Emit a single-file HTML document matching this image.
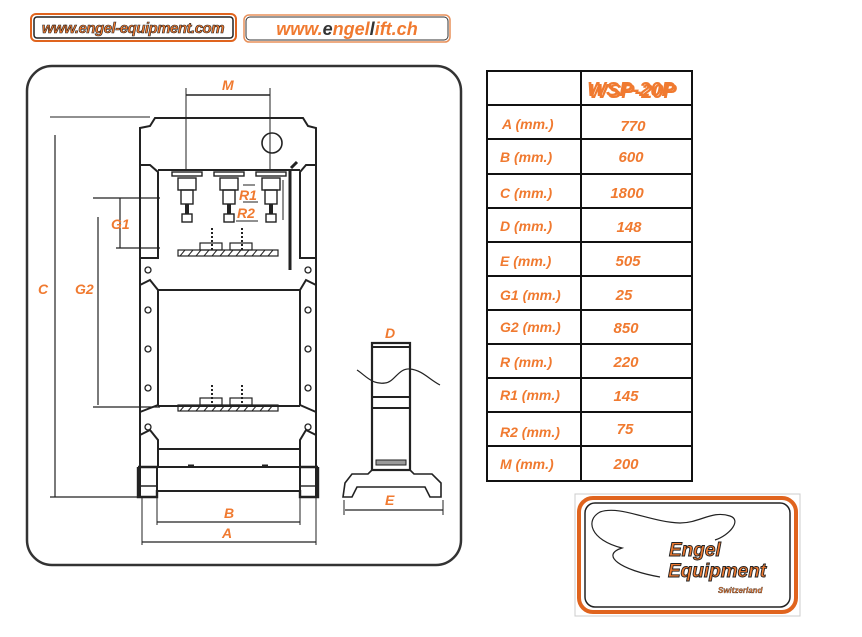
<!DOCTYPE html>
<html><head><meta charset="utf-8"><style>
body{margin:0;background:#fff;width:862px;height:637px;overflow:hidden}
svg{display:block}
.o{fill:#f07a30;font-family:"Liberation Sans",sans-serif;font-weight:bold;font-style:italic}
</style></head><body>
<svg width="862" height="637" viewBox="0 0 862 637" xmlns="http://www.w3.org/2000/svg">
<!-- header badges -->
<rect x="31" y="14" width="205" height="27" rx="5" fill="#fff" stroke="#e0641e" stroke-width="2"/>
<rect x="34" y="17" width="199" height="21" rx="3" fill="none" stroke="#222" stroke-width="1.5"/>
<text x="133" y="33" text-anchor="middle" class="o" font-size="15" stroke="#222" stroke-width="0.6" letter-spacing="-0.5">www.engel-equipment.com</text>
<rect x="244" y="15" width="206" height="27" rx="5" fill="#fff" stroke="#e8905a" stroke-width="1.5"/>
<rect x="246" y="17" width="202" height="23" rx="4" fill="none" stroke="#333" stroke-width="1"/>
<text x="347" y="35" text-anchor="middle" class="o" font-size="18">www.<tspan fill="#333">e</tspan>ngel<tspan fill="#333">l</tspan>ift.ch</text>

<!-- main box -->
<rect x="27" y="66" width="434" height="499" rx="25" fill="none" stroke="#333" stroke-width="2.5"/>

<g stroke="#222" fill="none" stroke-width="2">
<!-- dims -->
<line x1="186" y1="95" x2="270" y2="95" stroke-width="1.4"/>
<line x1="186" y1="88" x2="186" y2="170" stroke-width="1"/>
<line x1="270" y1="88" x2="270" y2="170" stroke-width="1"/>
<line x1="50" y1="117" x2="150" y2="117" stroke-width="1"/>
<line x1="55" y1="135" x2="55" y2="497" stroke-width="1.2"/>
<line x1="50" y1="497" x2="140" y2="497" stroke-width="1.2"/>
<line x1="93" y1="198" x2="160" y2="198" stroke-width="1.2"/>
<line x1="116" y1="248" x2="160" y2="248" stroke-width="1.2"/>
<line x1="120" y1="198" x2="120" y2="248" stroke-width="1.2"/>
<line x1="98" y1="217" x2="98" y2="405" stroke-width="1.2"/>
<line x1="93" y1="407" x2="160" y2="407" stroke-width="1.2"/>
<line x1="157" y1="522" x2="300" y2="522" stroke-width="1.2"/>
<line x1="142" y1="542" x2="316" y2="542" stroke-width="1.2"/>
<line x1="142" y1="497" x2="142" y2="545" stroke-width="1"/>
<line x1="316" y1="497" x2="316" y2="545" stroke-width="1"/>
<line x1="157" y1="497" x2="157" y2="525" stroke-width="1"/>
<line x1="300" y1="497" x2="300" y2="525" stroke-width="1"/>

<!-- frame outer -->
<path d="M140,497 L140,128 L150,126 L155,118 L303,118 L308,126 L316,128 L316,497"/>
<line x1="158" y1="170" x2="300" y2="170"/>
<!-- posts -->
<path d="M140,165 L150,165 L158,172 L158,258 L140,258"/>
<path d="M316,165 L306,165 L300,172 L300,258 L316,258"/>
<path d="M140,285 L150,280 L158,290 L158,405 L140,412"/>
<path d="M316,285 L306,280 L300,290 L300,405 L316,412"/>
<path d="M140,435 L150,430 L158,440 L158,467"/>
<path d="M316,435 L306,430 L300,440 L300,467"/>
<line x1="158" y1="290" x2="300" y2="290"/>
<line x1="158" y1="406" x2="300" y2="406"/>
<line x1="158" y1="449" x2="300" y2="449"/>
<!-- base -->
<rect x="157" y="467" width="143" height="24"/>
<line x1="188" y1="466" x2="194" y2="466" stroke-width="3"/>
<line x1="262" y1="466" x2="268" y2="466" stroke-width="3"/>
<path d="M138,467 L157,467 M138,467 L138,497 L157,497 L157,490" stroke-width="2.4"/>
<path d="M318,467 L300,467 M318,467 L318,497 L300,497 L300,490" stroke-width="2.4"/>
<line x1="140" y1="486" x2="157" y2="486" stroke-width="1.4"/>
<line x1="300" y1="486" x2="316" y2="486" stroke-width="1.4"/>
<!-- gauge -->
<circle cx="272" cy="143" r="10" stroke-width="1.6"/>
<!-- cylinders -->
<g stroke-width="1.4">
<rect x="172" y="172" width="30" height="4"/><rect x="214" y="172" width="30" height="4"/><rect x="256" y="172" width="30" height="4"/>
<rect x="178" y="178" width="18" height="12"/><rect x="220" y="178" width="18" height="12"/><rect x="262" y="178" width="18" height="12"/>
<rect x="181" y="190" width="12" height="14"/><rect x="223" y="190" width="12" height="14"/><rect x="265" y="190" width="12" height="14"/>
<rect x="182" y="214" width="10" height="8"/><rect x="224" y="214" width="10" height="8"/><rect x="266" y="214" width="10" height="8"/>
</g>
<line x1="187" y1="204" x2="187" y2="214" stroke-width="4"/>
<line x1="229" y1="204" x2="229" y2="214" stroke-width="4"/>
<line x1="271" y1="204" x2="271" y2="214" stroke-width="4"/>
<!-- lever -->
<line x1="290" y1="170" x2="290" y2="270" stroke-width="3"/>
<line x1="283" y1="180" x2="283" y2="220" stroke-width="1"/>
<line x1="291" y1="168" x2="297" y2="162" stroke-width="3"/>
<!-- tables -->
<rect x="178" y="250" width="100" height="6" stroke-width="1.2"/>
<rect x="178" y="405" width="100" height="6" stroke-width="1.2"/>
<rect x="200" y="243" width="22" height="7" stroke-width="1.2"/><rect x="230" y="243" width="22" height="7" stroke-width="1.2"/>
<rect x="200" y="398" width="22" height="7" stroke-width="1.2"/><rect x="230" y="398" width="22" height="7" stroke-width="1.2"/>
<line x1="212" y1="228" x2="212" y2="250" stroke-dasharray="2,2"/><line x1="242" y1="228" x2="242" y2="250" stroke-dasharray="2,2"/>
<line x1="212" y1="385" x2="212" y2="405" stroke-dasharray="2,2"/><line x1="242" y1="385" x2="242" y2="405" stroke-dasharray="2,2"/>
<line x1="243" y1="185" x2="255" y2="185" stroke-width="1"/><line x1="243" y1="202" x2="258" y2="202" stroke-width="1"/><line x1="236" y1="221" x2="258" y2="221" stroke-width="1"/>
<!-- holes -->
<g stroke-width="1.3">
<circle cx="148" cy="270" r="3"/><circle cx="148" cy="310" r="3"/><circle cx="148" cy="349" r="3"/><circle cx="148" cy="388" r="3"/><circle cx="148" cy="427" r="3"/>
<circle cx="308" cy="270" r="3"/><circle cx="308" cy="310" r="3"/><circle cx="308" cy="349" r="3"/><circle cx="308" cy="388" r="3"/><circle cx="308" cy="427" r="3"/>
</g>

<!-- side view -->
<rect x="372" y="343" width="38" height="127" stroke-width="2.2"/>
<line x1="372" y1="347" x2="410" y2="347"/>
<line x1="372" y1="397" x2="410" y2="397"/>
<line x1="372" y1="408" x2="410" y2="408"/>
<rect x="376" y="460" width="30" height="5" stroke-width="1" fill="#999"/>
<path d="M357,370 C365,375 372,385 385,383 C395,382 398,368 410,369 C422,370 430,380 440,385" stroke-width="1.2"/>
<path d="M372,470 L368,474 L352,474 L345,483 L343,497 L352,497 L357,487 L425,487 L430,497 L441,497 L441,483 L432,474 L414,474 L410,470" stroke-width="1.6"/>
<line x1="345" y1="510" x2="443" y2="510" stroke-width="1.2"/>
<line x1="344" y1="500" x2="344" y2="515" stroke-width="1"/><line x1="443" y1="500" x2="443" y2="515" stroke-width="1"/>
</g>
<!-- hatch -->
<g stroke="#222" stroke-width="1">
<path d="M180,256 l5,-6 M188,256 l5,-6 M196,256 l5,-6 M204,256 l5,-6 M212,256 l5,-6 M220,256 l5,-6 M228,256 l5,-6 M236,256 l5,-6 M244,256 l5,-6 M252,256 l5,-6 M260,256 l5,-6 M268,256 l5,-6"/>
<path d="M180,411 l5,-6 M188,411 l5,-6 M196,411 l5,-6 M204,411 l5,-6 M212,411 l5,-6 M220,411 l5,-6 M228,411 l5,-6 M236,411 l5,-6 M244,411 l5,-6 M252,411 l5,-6 M260,411 l5,-6 M268,411 l5,-6"/>
</g>
<!-- labels -->
<g class="o" font-size="14">
<text x="222" y="90">M</text>
<text x="239" y="200">R1</text>
<text x="237" y="218">R2</text>
<text x="111" y="229">G1</text>
<text x="75" y="294">G2</text>
<text x="38" y="294">C</text>
<text x="224" y="518">B</text>
<text x="222" y="538">A</text>
<text x="385" y="338">D</text>
<text x="385" y="505">E</text>
</g>

<!-- table -->
<g stroke="#111" stroke-width="2" fill="none">
<rect x="487" y="71" width="205" height="410"/>
<line x1="581" y1="71" x2="581" y2="481"/>
<line x1="487" y1="105" x2="692" y2="105"/><line x1="487" y1="139" x2="692" y2="139"/>
<line x1="487" y1="174" x2="692" y2="174"/><line x1="487" y1="208" x2="692" y2="208"/>
<line x1="487" y1="242" x2="692" y2="242"/><line x1="487" y1="276" x2="692" y2="276"/>
<line x1="487" y1="310" x2="692" y2="310"/><line x1="487" y1="344" x2="692" y2="344"/>
<line x1="487" y1="378" x2="692" y2="378"/><line x1="487" y1="412" x2="692" y2="412"/>
<line x1="487" y1="446" x2="692" y2="446"/>
</g>
<text x="633" y="98" text-anchor="middle" class="o" font-size="20" fill="#a0481e">WSP-20P</text>
<text x="631" y="96" text-anchor="middle" class="o" font-size="20">WSP-20P</text>
<g class="o" font-size="14">
<text x="502" y="129">A (mm.)</text><text x="500" y="162">B (mm.)</text><text x="500" y="198">C (mm.)</text>
<text x="500" y="231">D (mm.)</text><text x="500" y="266">E (mm.)</text><text x="500" y="300">G1 (mm.)</text>
<text x="500" y="332">G2 (mm.)</text><text x="500" y="367">R (mm.)</text><text x="500" y="400">R1 (mm.)</text>
<text x="500" y="437">R2 (mm.)</text><text x="500" y="469">M (mm.)</text>
</g>
<g class="o" font-size="15" text-anchor="middle">
<text x="633" y="131">770</text><text x="631" y="162">600</text><text x="627" y="198">1800</text>
<text x="629" y="232">148</text><text x="628" y="266">505</text><text x="624" y="300">25</text>
<text x="626" y="333">850</text><text x="626" y="367">220</text><text x="626" y="401">145</text>
<text x="625" y="434">75</text><text x="626" y="469">200</text>
</g>

<!-- logo -->
<rect x="575" y="494" width="225" height="122" fill="#fff" stroke="#ccc" stroke-width="1"/>
<rect x="579" y="498" width="217" height="114" rx="14" fill="none" stroke="#e0641e" stroke-width="4"/>
<rect x="585" y="503" width="205" height="104" rx="10" fill="none" stroke="#222" stroke-width="1.5"/>
<path d="M660,577 C620,570 600,555 622,548 C590,540 585,520 600,512 C620,505 650,522 680,523 C700,523 712,510 730,516 C742,520 730,535 715,540" fill="none" stroke="#222" stroke-width="1.2"/>
<g class="o" font-size="19" stroke="#222" stroke-width="0.9">
<text x="669" y="556">Engel</text>
<text x="668" y="577">Equipment</text>
</g>
<text x="718" y="593" class="o" font-size="8" stroke="#222" stroke-width="0.3">Switzerland</text>
</svg>
</body></html>
